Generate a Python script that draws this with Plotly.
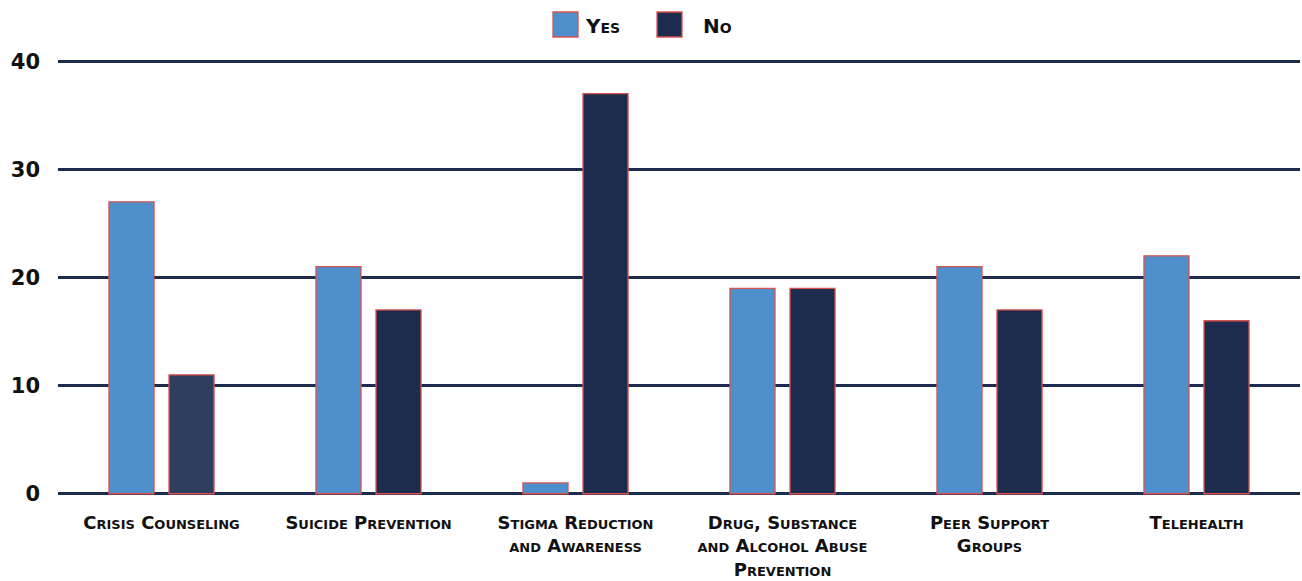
import plotly.graph_objects as go

# Survey responses per program area (38 respondents each)
categories = [
    "Crisis Counseling",
    "Suicide Prevention",
    "Stigma Reduction<br>and Awareness",
    "Drug, Substance<br>and Alcohol Abuse<br>Prevention",
    "Peer Support<br>Groups",
    "Telehealth",
]
yes_counts = [27, 21, 1, 19, 21, 22]
no_counts = [11, 17, 37, 19, 17, 16]
y_ticks = [0, 10, 20, 30, 40]

YES_COLOR = "#4F90CC"
NO_COLOR = "#1D2C4E"
EDGE = "#D9534C"
GRID = "#1D2C4E"
FONT = "DejaVu Sans"

no_colors = ["#2F3E60"] + [NO_COLOR] * (len(no_counts) - 1)

fig = go.Figure()
fig.add_trace(go.Bar(
    x=categories, y=yes_counts, name="Yes",
    marker=dict(color=YES_COLOR, line=dict(color=EDGE, width=1.3)),
    showlegend=False, hoverinfo="x+y",
))
fig.add_trace(go.Bar(
    x=categories, y=no_counts, name="No",
    marker=dict(color=no_colors, line=dict(color=EDGE, width=1.3)),
    showlegend=False, hoverinfo="x+y",
))

# Legend drawn as large square swatches with small-caps labels
L, T, W, H = 58, 58, 1242, 439
def px(x):
    return (x - L) / W
def py(y):
    return (T + H - y) / H

legend_items = [("Yes", YES_COLOR, 553, 585), ("No", NO_COLOR, 657, 703)]
for label, color, sx, tx in legend_items:
    fig.add_shape(
        type="rect", xref="paper", yref="paper",
        x0=px(sx), x1=px(sx + 25), y0=py(37), y1=py(12),
        fillcolor=color, line=dict(color=EDGE, width=1.3),
    )
    fig.add_annotation(
        xref="paper", yref="paper", x=px(tx - 2), y=py(26),
        xanchor="left", yanchor="middle", showarrow=False,
        text=label,
        font=dict(family=FONT, size=20, color="#111111", weight="bold", variant="small-caps"),
    )

fig.update_layout(
    width=1302, height=581,
    margin=dict(l=L, r=1302 - L - W, t=T, b=581 - T - H),
    paper_bgcolor="white", plot_bgcolor="white",
    barmode="group", bargap=0.42, bargroupgap=0.25,
    font=dict(family=FONT, color="#111111"),
)
fig.update_xaxes(
    showgrid=False, showline=False, zeroline=False, ticks="",
    tickfont=dict(family=FONT, size=18, color="#111111", weight="bold", variant="small-caps"),
    tickangle=0, ticklabelstandoff=13, automargin=False,
)
fig.update_yaxes(
    range=[-0.3, 40.3], tickvals=y_ticks, ticktext=[str(v) for v in y_ticks],
    showgrid=True, gridcolor=GRID, gridwidth=3,
    zeroline=False, showline=False, ticks="",
    tickfont=dict(family=FONT, size=21, color="#111111", weight="bold"),
    ticklabelstandoff=17, automargin=False,
)

fig.write_html("out.html")
